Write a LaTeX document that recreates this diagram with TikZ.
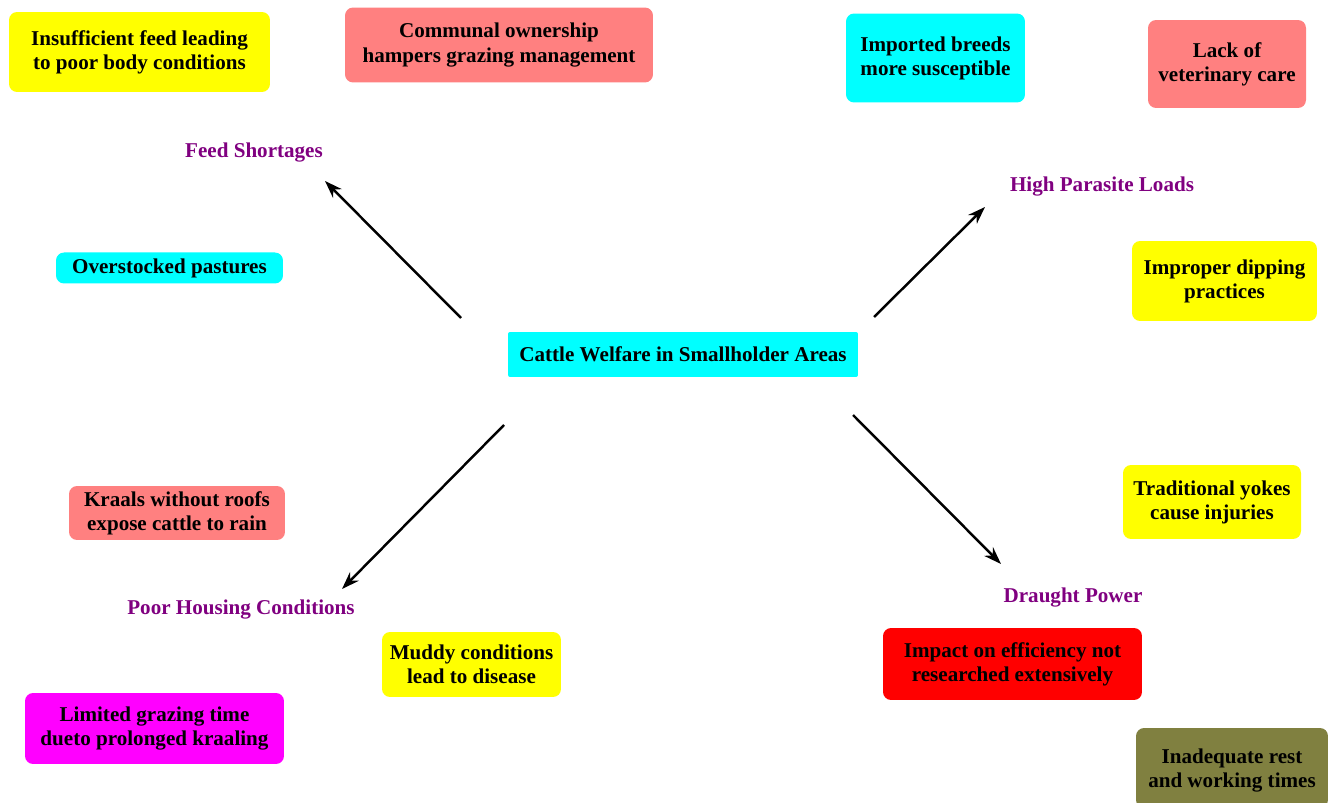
\documentclass[tikz,border=0pt]{standalone}
\usepackage{fontspec}
\setmainfont{Liberation Serif}
\usetikzlibrary{arrows.meta}
\definecolor{salmon}{RGB}{255,128,128}
\definecolor{olivebox}{RGB}{128,128,64}
\definecolor{labelpurple}{RGB}{128,0,128}
\definecolor{boxcyan}{RGB}{0,255,255}
\definecolor{boxyellow}{RGB}{255,255,0}
\definecolor{boxmagenta}{RGB}{255,0,255}
\definecolor{boxred}{RGB}{255,0,0}
\tikzset{
  box/.style={rounded corners=0.16cm, align=center, inner sep=0pt,
    font=\bfseries\fontsize{12}{13.7}\selectfont},
  cause/.style={text=labelpurple, inner sep=0pt,
    font=\bfseries\fontsize{12}{14}\selectfont},
  link/.style={line width=1.4pt, -{Stealth[length=10pt,width=7pt]}}
}
\begin{document}
\begin{tikzpicture}[x=0.02cm,y=-0.02cm]
\useasboundingbox (0,0) rectangle (1335,803);
% centre
\node[box,fill=boxcyan,rounded corners=0.04cm,minimum width=7cm,minimum height=0.9cm] (centre) at (683,354.5) {Cattle Welfare in Smallholder Areas};
% causes
\node[cause] (feed) at (254,153) {Feed Shortages};
\node[cause] (parasite) at (1102,187) {High Parasite Loads};
\node[cause] (housing) at (241,610) {Poor Housing Conditions};
\node[cause] (draught) at (1073,598) {Draught Power};
% feed shortages
\node[box,fill=boxyellow,minimum width=5.22cm,minimum height=1.6cm] (feed1) at (139.5,52) {Insufficient feed leading\\to poor body conditions};
\node[box,fill=salmon,minimum width=6.16cm,minimum height=1.5cm] (feed2) at (499,45) {Communal ownership\\hampers grazing management};
\node[box,fill=boxcyan,minimum width=4.54cm,minimum height=0.62cm] (feed3) at (169.5,268) {Overstocked pastures};
% high parasite loads
\node[box,fill=boxcyan,minimum width=3.58cm,minimum height=1.78cm] (para1) at (935.5,58) {Imported breeds\\more susceptible};
\node[box,fill=salmon,minimum width=3.16cm,minimum height=1.76cm] (para2) at (1227,64) {Lack of\\veterinary care};
\node[box,fill=boxyellow,minimum width=3.7cm,minimum height=1.6cm] (para3) at (1224.5,281) {Improper dipping\\practices};
% poor housing conditions
\node[box,fill=salmon,minimum width=4.32cm,minimum height=1.08cm] (house1) at (177,513) {Kraals without roofs\\expose cattle to rain};
\node[box,fill=boxyellow,minimum width=3.58cm,minimum height=1.3cm] (house2) at (471.5,664.5) {Muddy conditions\\lead to disease};
\node[box,fill=boxmagenta,minimum width=5.18cm,minimum height=1.42cm] (house3) at (154.5,728.5) {Limited grazing time\\dueto prolonged kraaling};
% draught power
\node[box,fill=boxyellow,minimum width=3.56cm,minimum height=1.48cm] (draft1) at (1212,502) {Traditional yokes\\cause injuries};
\node[box,fill=boxred,minimum width=5.18cm,minimum height=1.44cm] (draft2) at (1012.5,664) {Impact on efficiency not\\researched extensively};
\node[box,fill=olivebox,minimum width=3.84cm,minimum height=1.6cm,text depth=0pt] (draft3) at (1232,768) {Inadequate rest\\and working times};
% arrows
\coordinate (feedTail) at (461,318);
\coordinate (feedTip) at (325,181);
\coordinate (paraTail) at (874,317);
\coordinate (paraTip) at (985,207);
\coordinate (houseTail) at (504,425);
\coordinate (houseTip) at (342,589);
\coordinate (draftTail) at (853,415);
\coordinate (draftTip) at (1001,564);
\draw[link] (feedTail) -- (feedTip);
\draw[link] (paraTail) -- (paraTip);
\draw[link] (houseTail) -- (houseTip);
\draw[link] (draftTail) -- (draftTip);
\end{tikzpicture}
\end{document}
